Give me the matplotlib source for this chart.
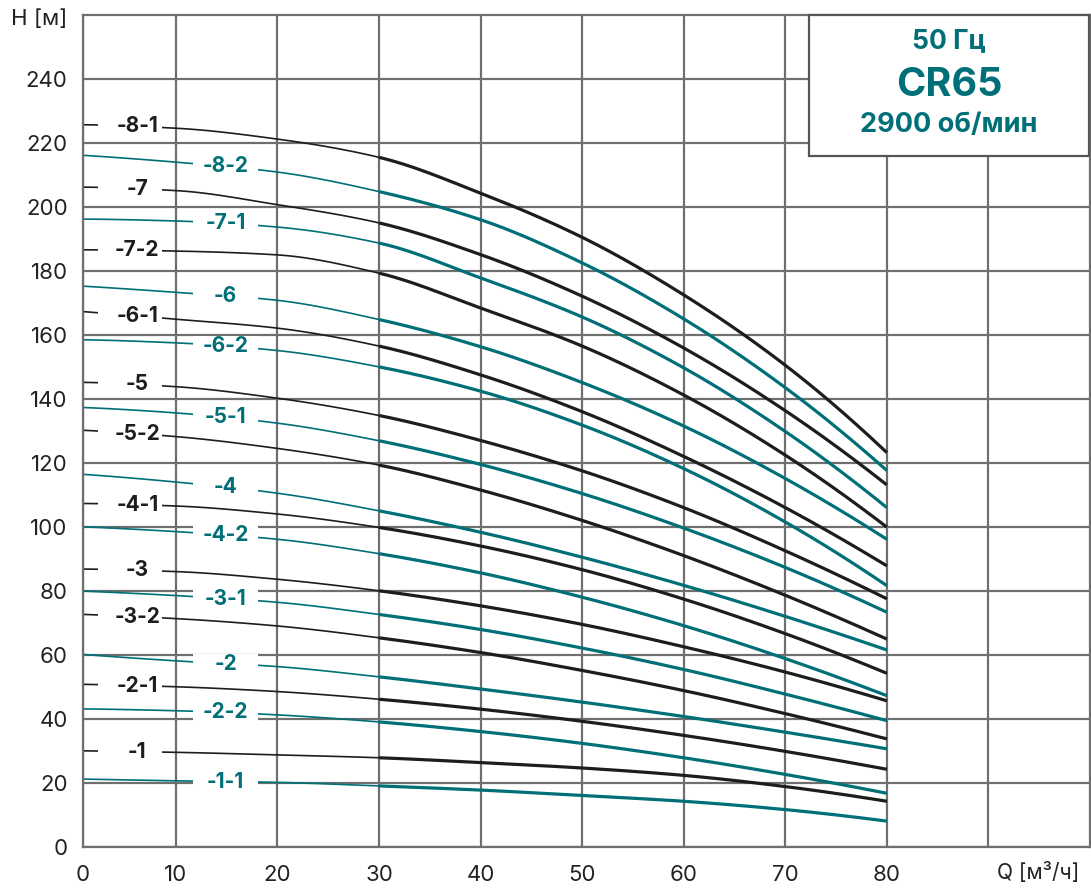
import numpy as np
import matplotlib
matplotlib.use("Agg")
import matplotlib.pyplot as plt
from matplotlib.patches import Rectangle

plt.rcParams['font.family'] = ['Inter', 'DejaVu Sans']

# ---------------- data ----------------
q = [0, 10, 20, 30, 40, 50, 60, 70, 80]

labels = ["-8-1", "-8-2", "-7", "-7-1", "-7-2", "-6", "-6-1", "-6-2",
          "-5", "-5-1", "-5-2", "-4", "-4-1", "-4-2", "-3", "-3-1",
          "-3-2", "-2", "-2-1", "-2-2", "-1", "-1-1"]

h_8_1 = [225.7, 224.6, 221.2, 215.5, 204.3, 190.5, 172.5, 150.5, 123.2]
h_8_2 = [216.3, 214.0, 210.9, 204.8, 196.0, 182.5, 165.0, 143.5, 117.6]
h_7   = [206.2, 205.1, 200.7, 195.0, 185.1, 172.1, 155.9, 136.3, 113.1]
h_7_1 = [196.2, 195.6, 193.7, 188.7, 177.8, 165.6, 149.7, 129.8, 106.0]
h_7_2 = [186.6, 186.2, 185.0, 179.3, 168.4, 156.5, 141.2, 122.4, 99.9]
h_6   = [175.4, 173.3, 170.8, 164.8, 156.3, 145.1, 131.5, 115.1, 96.1]
h_6_1 = [167.5, 164.9, 162.1, 156.5, 147.5, 136.0, 122.0, 106.0, 87.8]
h_6_2 = [158.5, 157.5, 155.1, 150.0, 142.4, 131.8, 118.2, 101.5, 81.6]
h_5   = [145.2, 143.8, 140.2, 134.8, 127.0, 117.5, 106.0, 92.5, 77.5]
h_5_1 = [137.4, 135.6, 132.4, 126.9, 119.5, 110.4, 99.6, 87.3, 73.3]
h_5_2 = [130.3, 128.2, 124.5, 119.3, 111.5, 102.0, 91.0, 78.6, 64.9]
h_4   = [116.6, 114.0, 110.5, 105.0, 98.3, 90.5, 81.7, 72.0, 61.5]
h_4_1 = [107.3, 106.5, 104.0, 99.8, 94.0, 86.6, 77.4, 66.6, 54.2]
h_4_2 = [100.1, 98.5, 96.1, 91.6, 85.6, 78.0, 69.1, 58.8, 47.2]
h_3   = [86.8, 86.0, 83.6, 80.0, 75.3, 69.5, 62.5, 54.6, 45.6]
h_3_1 = [80.0, 78.5, 76.4, 72.6, 67.9, 62.1, 55.4, 47.7, 39.4]
h_3_2 = [72.7, 71.3, 69.0, 65.3, 60.7, 55.1, 48.8, 41.6, 33.7]
h_2   = [60.3, 58.1, 56.3, 53.1, 49.3, 45.2, 40.7, 35.8, 30.6]
h_2_1 = [50.8, 50.0, 48.5, 46.1, 43.0, 39.2, 34.8, 29.8, 24.2]
h_2_2 = [43.1, 42.5, 41.2, 39.0, 36.0, 32.3, 27.8, 22.6, 16.7]
h_1   = [30.0, 29.5, 28.7, 27.8, 26.3, 24.6, 22.3, 18.8, 14.2]
h_1_1 = [21.2, 20.6, 20.1, 19.0, 17.7, 16.0, 14.2, 11.6, 8.0]

curves = [h_8_1, h_8_2, h_7, h_7_1, h_7_2, h_6, h_6_1, h_6_2,
          h_5, h_5_1, h_5_2, h_4, h_4_1, h_4_2, h_3, h_3_1,
          h_3_2, h_2, h_2_1, h_2_2, h_1, h_1_1]

x_ticks = [0, 10, 20, 30, 40, 50, 60, 70, 80]
y_ticks = [0, 20, 40, 60, 80, 100, 120, 140, 160, 180, 200, 220, 240]

# ---------------- style ----------------
BLACK = "#1d1d1b"
TEAL = "#006f78"
GRID = "#6f6f6f"


def pchip(x, y, xn):
    x = np.asarray(x, float)
    y = np.asarray(y, float)
    h = np.diff(x)
    d = np.diff(y) / h
    n = len(x)
    m = np.zeros(n)
    for k in range(1, n - 1):
        if d[k - 1] * d[k] <= 0:
            m[k] = 0
        else:
            w1 = 2 * h[k] + h[k - 1]
            w2 = h[k] + 2 * h[k - 1]
            m[k] = (w1 + w2) / (w1 / d[k - 1] + w2 / d[k])
    m[0] = ((2 * h[0] + h[1]) * d[0] - h[0] * d[1]) / (h[0] + h[1])
    if np.sign(m[0]) != np.sign(d[0]):
        m[0] = 0
    m[-1] = ((2 * h[-1] + h[-2]) * d[-1] - h[-1] * d[-2]) / (h[-1] + h[-2])
    if np.sign(m[-1]) != np.sign(d[-1]):
        m[-1] = 0
    xn = np.asarray(xn, float)
    idx = np.clip(np.searchsorted(x, xn) - 1, 0, n - 2)
    t = (xn - x[idx]) / h[idx]
    h00 = 2 * t**3 - 3 * t**2 + 1
    h10 = t**3 - 2 * t**2 + t
    h01 = -2 * t**3 + 3 * t**2
    h11 = t**3 - t**2
    return (h00 * y[idx] + h10 * h[idx] * m[idx] + h01 * y[idx + 1]
            + h11 * h[idx] * m[idx + 1])


W, H = 1091, 893
fig = plt.figure(figsize=(W / 100, H / 100), dpi=100)

X0 = 0.85
x_left_px, x_right_px = 83, 1090
y_bot_px, y_top_px = 846.7, 15
ax = fig.add_axes([x_left_px / W, (H - y_bot_px) / H,
                   (x_right_px - x_left_px) / W, (y_bot_px - y_top_px) / H])
ax.set_xlim(X0, 100)
ax.set_ylim(0, 260)

xt_pos = [X0] + x_ticks[1:] + [90]
ax.set_xticks(xt_pos)
ax.set_xticklabels([str(v) for v in x_ticks] + [""])
ax.set_yticks(y_ticks)
ax.set_yticklabels([str(v) for v in y_ticks])
ax.tick_params(axis='both', length=0, labelsize=16, colors="#222222")
ax.tick_params(axis='x', pad=13)
ax.tick_params(axis='y', pad=11)
for s in ax.spines.values():
    s.set_color(GRID)
    s.set_linewidth(1.6)
ax.grid(True, color=GRID, linewidth=1.6, zorder=0)
ax.set_axisbelow(True)

qs_thin = np.linspace(0, 30, 120)
qs_thick = np.linspace(30, 80, 200)

for i, (lab, hv) in enumerate(zip(labels, curves)):
    col = BLACK if i % 2 == 0 else TEAL
    ax.plot(qs_thin, pchip(q, hv, qs_thin), color=col, lw=1.2, zorder=2,
            solid_capstyle='butt')
    ax.plot(qs_thick, pchip(q, hv, qs_thick), color=col, lw=2.3, zorder=2,
            solid_capstyle='butt')
    if i % 2 == 0:
        lx, x_a, x_b = 6.2, 2.35, 8.62
    else:
        lx, x_a, x_b = 14.9, 11.67, 18.07
    ly = float(pchip(q, hv, [lx])[0])
    ax.add_patch(Rectangle((x_a, ly - 3.1), x_b - x_a, 6.2, facecolor='white',
                           edgecolor='none', zorder=3))
    ax.text(lx, ly, lab, color=col, fontsize=15, fontweight='bold',
            ha='center', va='center', zorder=4)

# axis titles
fig.text(67 / W, 1 - 19 / H, "H [м]", ha='right', va='center', fontsize=16,
         color="#222222")
fig.text(997 / W, 1 - 872 / H, "Q [м³/ч]", ha='left', va='center', fontsize=15,
         color="#222222")

# info box
bx0, by0, bx1, by1 = 809, 15, 1089, 156
fig.add_artist(Rectangle((bx0 / W, 1 - by1 / H), (bx1 - bx0) / W, (by1 - by0) / H,
                         transform=fig.transFigure, facecolor='white',
                         edgecolor="#555555", linewidth=1.6, zorder=5))
cx = (bx0 + bx1) / 2 / W
fig.text(cx, 1 - 41 / H, "50 Гц", ha='center', va='center', fontsize=19,
         fontweight='bold', color=TEAL, zorder=6)
fig.text(cx, 1 - 85 / H, "CR65", ha='center', va='center', fontsize=28.5,
         fontweight='bold', color=TEAL, zorder=6)
fig.text(cx, 1 - 125 / H, "2900 об/мин", ha='center', va='center', fontsize=19.5,
         fontweight='bold', color=TEAL, zorder=6)

fig.savefig("out.png", dpi=100)
